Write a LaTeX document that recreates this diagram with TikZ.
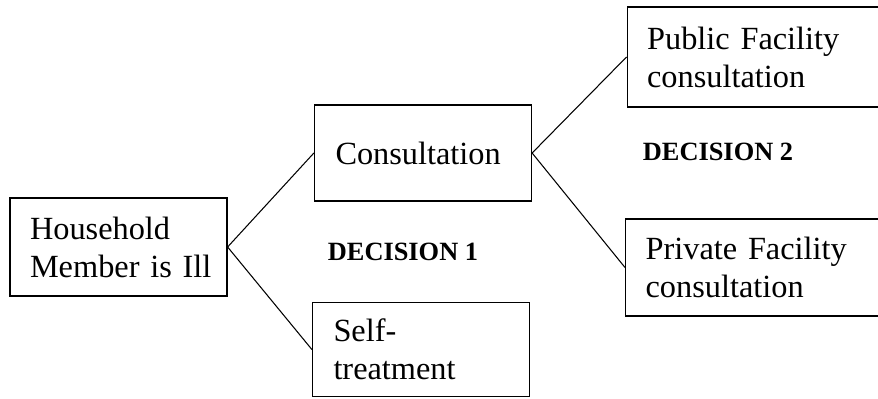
\documentclass[tikz,border=0pt]{standalone}
\usepackage{fontspec}
\setmainfont{Liberation Serif}
\usepackage{tikz}
\usetikzlibrary{positioning}
\tikzstyle{choicebox} = [rectangle, draw=black, line width=0.7pt, inner xsep=0.3cm, inner ysep=0pt, text width=3.74cm, align=left, font=\fontsize{18.4}{21.6}\selectfont]
\tikzstyle{decision} = [font=\bfseries\fontsize{15}{18}\selectfont]
\tikzstyle{link} = [line width=0.6pt]

\begin{document}
\begin{tikzpicture}
\useasboundingbox (0,0) rectangle (17.56,7.96);

% Starting point
\node[choicebox, minimum height=1.96cm] (ill) at (2.37,3.02) {\hspace*{0.1cm}Household\\\hspace*{0.1cm}Member is Ill};

% Decision 1 options
\node[choicebox, minimum height=1.92cm] (consult) at (8.46,4.90) {\hspace*{0.12cm}Consultation};
\node[choicebox, minimum height=1.88cm] (self) at (8.42,0.97) {\hspace*{0.12cm}Self-\\\hspace*{0.12cm}treatment};

% Decision 2 options (cut at the right edge)
\node[choicebox, text width=4.9cm, minimum height=2cm, anchor=west] (public) at (12.53,6.82) {\hspace*{0.1cm}Public Facility\\\hspace*{0.1cm}consultation};
\node[choicebox, text width=4.9cm, minimum height=1.94cm, anchor=west] (private) at (12.50,2.61) {\hspace*{0.1cm}Private Facility\\\hspace*{0.1cm}consultation};

% Branches
\draw[link] (ill.east) -- (consult.west);
\draw[link] (ill.east) -- (self.west);
\draw[link] (consult.east) -- (public.west);
\draw[link] (consult.east) -- (private.west);

% Decision labels
\node[decision] (dec1) at (8.06,2.92) {DECISION 1};
\node[decision] (dec2) at (14.36,4.92) {DECISION 2};
\end{tikzpicture}
\end{document}
